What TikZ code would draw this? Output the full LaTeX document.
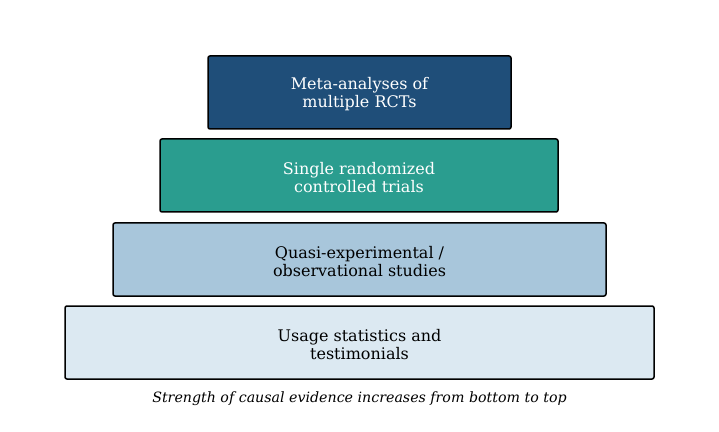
\documentclass[tikz,border=0pt]{standalone}
\usepackage{fontspec}
\setmainfont{DejaVu Serif}
\definecolor{cdark}{HTML}{1F4E79}
\definecolor{cteal}{HTML}{2A9D8F}
\definecolor{clight}{HTML}{A8C6DB}
\definecolor{cpale}{HTML}{DCE9F2}
\begin{document}
\begin{tikzpicture}[x=1pt,y=1pt,
  tier/.style={draw=black, line width=1.5pt, rounded corners=2pt, minimum height=73pt, inner sep=0pt},
  tiertext/.style={inner sep=0pt, align=center, font=\fontsize{16}{18}\selectfont},
  caption/.style={font=\fontsize{14.2}{16}\selectfont\itshape}]
\useasboundingbox (0,0) rectangle (719,431);
\node[tier, fill=cdark, minimum width=303pt] (t1) at (359.5,{431-92.5}) {};
\node[tier, fill=cteal, minimum width=398pt] (t2) at (359,{431-175.5}) {};
\node[tier, fill=clight, minimum width=493pt] (t3) at (359.5,{431-259.5}) {};
\node[tier, fill=cpale, minimum width=589pt] (t4) at (359.5,{431-342.5}) {};
\node[tiertext, text=white] (l1) at ([yshift=-2pt]t1.center) {Meta-analyses of\\multiple RCTs};
\node[tiertext, text=white] (l2) at ([yshift=-2pt]t2.center) {Single randomized\\controlled trials};
\node[tiertext, text=black] (l3) at ([yshift=-2pt]t3.center) {Quasi-experimental /\\observational studies};
\node[tiertext, text=black] (l4) at ([yshift=-2pt]t4.center) {Usage statistics and\\testimonials};
\node[caption] (cap) at (359.5,{431-399}) {Strength of causal evidence increases from bottom to top};
\end{tikzpicture}
\end{document}
